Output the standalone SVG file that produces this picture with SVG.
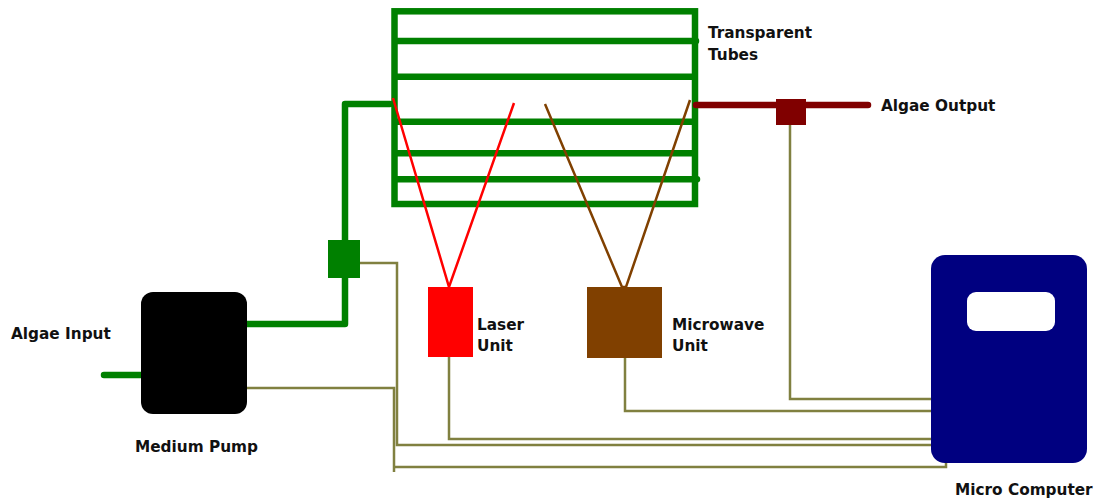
<svg xmlns="http://www.w3.org/2000/svg" width="1094" height="499" viewBox="0 0 1094 499">
<style>
.t{font-family:"DejaVu Sans",sans-serif;font-weight:bold;font-size:15.300px;fill:#111}
.g{fill:none;stroke:#008000;stroke-width:6.500;stroke-linecap:round;stroke-linejoin:round}
.c{fill:none;stroke:#808040;stroke-width:2.500}
</style>
<rect width="1094" height="499" fill="#fff"/>
<g id="tubes">
<rect x="394.500" y="11.300" width="300.500" height="192.700" fill="none" stroke="#008000" stroke-width="6.500"/>
<path class="g" d="M397 41H696M397 76.700H692M397 121.700H692M397 153.300H692M397 179.300H697"/>
<text class="t" x="708" y="38">Transparent</text>
<text class="t" x="708" y="60">Tubes</text>
</g>
<g id="connectors">
<path class="g" d="M104 375H142M247 324H345V104H390"/>
<path fill="none" stroke="#800000" stroke-width="6.500" stroke-linecap="round" d="M696 105H868"/>
<path class="c" d="M358 263H397V445H932M245 388H394V472M394 467H946V461M449 357V439H931M625 357V411H931M790 125V399H931"/>
<path fill="none" stroke="#f00" stroke-width="2.500" d="M393 98L449 287L514 103"/>
<path fill="none" stroke="#804000" stroke-width="2.500" d="M545 104L622 287L626 287L690 100"/>
</g>
<g id="valve-green"><rect x="328" y="240" width="32" height="38" fill="#008000"/></g>
<g id="valve-red"><rect x="776" y="99" width="30" height="26" fill="#800000"/></g>
<g id="pump"><rect x="141" y="292" width="106" height="122" rx="12" fill="#000"/><text class="t" x="135" y="452">Medium Pump</text></g>
<g id="input"><text class="t" x="11" y="339">Algae Input</text></g>
<g id="output"><text class="t" x="881" y="111">Algae Output</text></g>
<g id="laser"><rect x="428" y="287" width="45" height="70" fill="#f00"/><text class="t" x="477" y="330">Laser</text><text class="t" x="477" y="351">Unit</text></g>
<g id="microwave"><rect x="587" y="287" width="75" height="71" fill="#804000"/><text class="t" x="672" y="330">Microwave</text><text class="t" x="672" y="351">Unit</text></g>
<g id="computer"><rect x="931" y="255" width="156" height="208" rx="14" fill="#000080"/><rect x="967" y="292" width="88" height="39" rx="9" fill="#fff"/><text class="t" x="955" y="495">Micro Computer</text></g>
</svg>
